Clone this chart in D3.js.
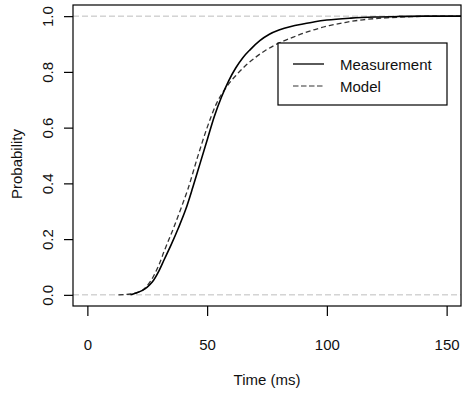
<!DOCTYPE html>
<html>
<head>
<meta charset="utf-8">
<script src="https://cdn.jsdelivr.net/npm/d3@7"></script>
<style>
body { margin: 0; background: #fff; }
text { font-family: "Liberation Sans", Arial, Helvetica, sans-serif; fill: #111; }
</style>
</head>
<body>
<script>
// Measurement (solid) - time in ms, cumulative probability
var measTime = [18, 20, 23, 25, 27, 30, 32, 35, 38, 41, 44, 47, 50, 53, 56, 59, 62, 65, 68, 72, 76, 80, 85, 90, 95, 100, 110, 120, 130, 140, 150, 156];
var measProb = [0, 0.006, 0.016, 0.028, 0.045, 0.088, 0.125, 0.18, 0.24, 0.305, 0.385, 0.47, 0.555, 0.64, 0.71, 0.768, 0.815, 0.852, 0.88, 0.912, 0.935, 0.95, 0.963, 0.972, 0.98, 0.986, 0.993, 0.997, 0.999, 1, 1, 1];

// Model (dashed)
var modelTime = [13, 18, 20, 22.5, 25, 27.5, 30, 32, 36, 39.5, 42, 46, 50, 54, 58, 62, 66, 70, 74, 78, 82, 86, 90, 95, 101, 108, 115, 125, 135, 145, 156];
var modelProb = [0, 0.003, 0.006, 0.013, 0.033, 0.065, 0.11, 0.155, 0.24, 0.32, 0.38, 0.494, 0.6, 0.688, 0.745, 0.787, 0.822, 0.851, 0.875, 0.895, 0.911, 0.925, 0.938, 0.952, 0.966, 0.978, 0.987, 0.994, 0.998, 1, 1];

var xTicks = [0, 50, 100, 150];
var yTicks = [0, 0.2, 0.4, 0.6, 0.8, 1.0];
var refLines = [0, 1];
var legendNames = ["Measurement", "Model"];

var svgW = 462;
var svgH = 394;
var padL = 73, padR = 461, padT = 5, padB = 306;

var svg = d3.select("body")
    .append("svg")
    .attr("width", svgW)
    .attr("height", svgH);

var xScale = d3.scaleLinear()
    .domain([-6, 156])
    .range([padL, padR]);

var yScale = d3.scaleLinear()
    .domain([-0.04, 1.04])
    .range([padB, padT]);

var measData = measTime.map(function(t, i) { return {t: t, p: measProb[i]}; });
var modelData = modelTime.map(function(t, i) { return {t: t, p: modelProb[i]}; });

// grey reference lines at 0 and 1
svg.selectAll("line.ref")
    .data(refLines)
    .enter()
    .append("line")
    .attr("class", "ref")
    .attr("x1", padL)
    .attr("x2", padR)
    .attr("y1", function(d) { return yScale(d); })
    .attr("y2", function(d) { return yScale(d); })
    .attr("stroke", "#bdbdbd")
    .attr("stroke-width", 1)
    .attr("stroke-dasharray", "6,3");

var line = d3.line()
    .x(function(d) { return xScale(d.t); })
    .y(function(d) { return yScale(d.p); })
    .curve(d3.curveMonotoneX);

svg.append("path")
    .datum(modelData)
    .attr("d", line)
    .attr("fill", "none")
    .attr("stroke", "#333")
    .attr("stroke-width", 1.3)
    .attr("stroke-dasharray", "5,3");

svg.append("path")
    .datum(measData)
    .attr("d", line)
    .attr("fill", "none")
    .attr("stroke", "#000")
    .attr("stroke-width", 1.6);

// box
svg.append("rect")
    .attr("x", padL)
    .attr("y", padT)
    .attr("width", padR - padL)
    .attr("height", padB - padT)
    .attr("fill", "none")
    .attr("stroke", "#000")
    .attr("stroke-width", 1.2);

//Define X axis
var xAxis = d3.axisBottom()
    .scale(xScale)
    .tickValues(xTicks)
    .tickSize(10)
    .tickPadding(23)
    .tickFormat(d3.format("d"));

//Define Y axis
var yAxis = d3.axisLeft()
    .scale(yScale)
    .tickValues(yTicks)
    .tickSize(9)
    .tickFormat(d3.format(".1f"));

var gx = svg.append("g")
    .attr("transform", "translate(0," + padB + ")")
    .call(xAxis);
gx.select(".domain").remove();
gx.selectAll("line").attr("stroke", "#000").attr("stroke-width", 1.2);
gx.selectAll("text")
    .attr("font-size", 15)
    .attr("fill", "#111");

var gy = svg.append("g")
    .attr("transform", "translate(" + padL + ",0)")
    .call(yAxis);
gy.select(".domain").remove();
gy.selectAll("line").attr("stroke", "#000").attr("stroke-width", 1.2);
gy.selectAll("text")
    .attr("font-size", 15)
    .attr("fill", "#111")
    .attr("text-anchor", "middle")
    .attr("dy", null)
    .attr("x", null)
    .attr("transform", "translate(-20,0) rotate(-90)");

// axis titles
svg.append("text")
    .attr("x", (padL + padR) / 2)
    .attr("y", 385)
    .attr("text-anchor", "middle")
    .attr("font-size", 15)
    .text("Time (ms)");

svg.append("text")
    .attr("transform", "translate(22,164) rotate(-90)")
    .attr("text-anchor", "middle")
    .attr("font-size", 15)
    .text("Probability");

// legend
var legend = svg.append("g");
legend.append("rect")
    .attr("x", 278)
    .attr("y", 43)
    .attr("width", 169)
    .attr("height", 62)
    .attr("fill", "#fff")
    .attr("stroke", "#000")
    .attr("stroke-width", 1.2);

var entry = legend.selectAll("g.entry")
    .data(legendNames)
    .enter()
    .append("g")
    .attr("class", "entry")
    .attr("transform", function(d, i) { return "translate(0," + (64 + i * 22) + ")"; });

entry.append("line")
    .attr("x1", 293)
    .attr("x2", 324)
    .attr("stroke", function(d, i) { return i == 0 ? "#000" : "#333"; })
    .attr("stroke-width", function(d, i) { return i == 0 ? 1.3 : 1.2; })
    .attr("stroke-dasharray", function(d, i) { return i == 0 ? null : "5.5,2.5"; });

entry.append("text")
    .attr("x", 340)
    .attr("y", 6)
    .attr("font-size", 15)
    .text(function(d) { return d; });
</script>
</body>
</html>
